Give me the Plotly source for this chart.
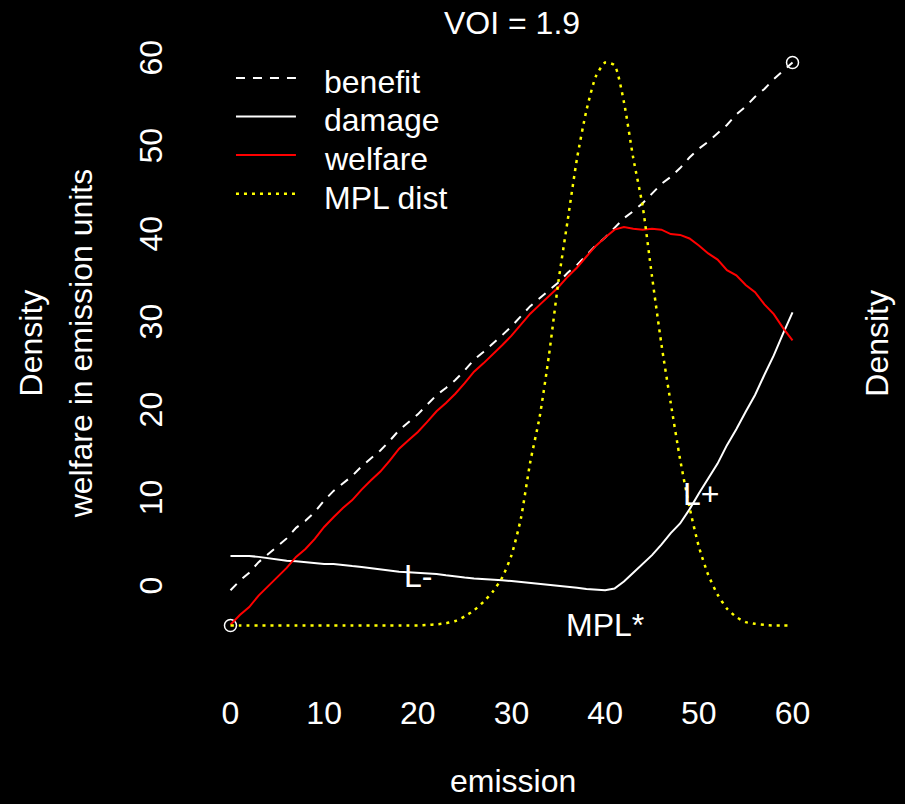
import plotly.graph_objects as go

# ---------------- data ----------------
emission = list(range(0, 61))

benefit = [0.0, 1.1, 2.0, 3.2, 4.1, 5.0, 5.9, 7.1, 7.9, 8.9,
           10.2, 11.3, 12.2, 13.0, 14.1, 15.0, 15.9, 17.0, 18.2, 19.1,
           20.0, 21.1, 22.2, 23.0, 23.9, 25.0, 26.2, 27.1, 28.0, 29.0,
           30.0, 31.2, 32.3, 33.2, 34.1, 35.0, 36.1, 37.0, 38.1, 39.2,
           40.1, 41.2, 42.3, 43.1, 44.0, 45.1, 46.2, 47.0, 48.0, 49.2,
           50.2, 51.0, 52.0, 52.9, 54.1, 55.0, 56.1, 57.0, 58.1, 59.0, 60.0]

damage = [3.9, 3.9, 3.9, 3.8, 3.65, 3.45, 3.35, 3.3, 3.2, 3.05,
          3.0, 3.0, 2.85, 2.75, 2.65, 2.5, 2.4, 2.25, 2.1, 2.05,
          2.0, 1.95, 1.85, 1.7, 1.55, 1.45, 1.35, 1.3, 1.2, 1.15,
          1.05, 0.95, 0.85, 0.75, 0.65, 0.55, 0.45, 0.3, 0.15, 0.05,
          0.0, 0.2, 1.0, 2.0, 3.0, 4.0, 5.2, 6.5, 7.6, 9.2,
          11.0, 12.7, 14.4, 16.5, 18.3, 20.3, 22.2, 24.5, 26.7, 29.2, 31.6]

welfare = [-3.9, -2.8, -1.9, -0.6, 0.45, 1.55, 2.55, 3.8, 4.7, 5.85,
           7.2, 8.3, 9.35, 10.25, 11.45, 12.5, 13.5, 14.75, 16.1, 17.05,
           18.0, 19.15, 20.35, 21.3, 22.35, 23.55, 24.85, 25.8, 26.8, 27.85,
           28.95, 30.25, 31.45, 32.45, 33.45, 34.45, 35.65, 36.7, 37.95, 39.15,
           40.1, 41.0, 41.3, 41.1, 41.0, 41.1, 41.0, 40.5, 40.4, 40.0,
           39.2, 38.3, 37.6, 36.4, 35.8, 34.7, 33.9, 32.5, 31.4, 29.8, 28.4]

mpl_density = [0.0, 0.0, 0.0, 0.0, 0.0, 0.0, 0.0, 0.0, 0.0, 0.0,
               0.0, 0.0, 0.0, 0.0, 0.0, 0.0, 0.0, 0.0, 0.0, 0.0,
               0.0, 0.00008, 0.00016, 0.00032, 0.00064, 0.00128, 0.00216, 0.00336, 0.0048, 0.0068,
               0.0100, 0.0152, 0.0232, 0.0296, 0.0384, 0.0488, 0.0576, 0.0664, 0.0732, 0.0780,
               0.0800, 0.0796, 0.0744, 0.0664, 0.0596, 0.0496, 0.0400, 0.0316, 0.0236, 0.0168,
               0.0112, 0.0072, 0.0044, 0.0024, 0.0012, 0.00048, 0.00024, 0.00008, 0.0, 0.0, 0.0]

range_x = [0, 60]
range_y = [-4, 60]

x_ticks = [0, 10, 20, 30, 40, 50, 60]
y_ticks = [0, 10, 20, 30, 40, 50, 60]

legend_labels = ["benefit", "damage", "welfare", "MPL dist"]
point_labels = ["L-", "L+", "MPL*"]
point_x = [20, 50.2, 40]
point_y = [1.6, 11.0, -4.0]

title_text = "VOI = 1.9"
x_title = "emission"
y_title_outer = "Density"
y_title_inner = "welfare in emission units"
y2_title = "Density"

# ---------------- layout geometry ----------------
W, H = 905, 804
L, R, T, B = 208, 89.5, 39.5, 156
PW, PH = W - L - R, H - T - B
FONT = "Liberation Sans, Arial, sans-serif"
FS = 32

def px(xp):
    return (xp - L) / PW

def py(yp):
    return (T + PH - yp) / PH

styles = {
    "benefit": dict(color="white", width=2, dash="9px,8px"),
    "damage": dict(color="white", width=2),
    "welfare": dict(color="#FF0000", width=2),
    "MPL dist": dict(color="#FFFF00", width=2.5, dash="3px,5px"),
}

fig = go.Figure()
fig.add_trace(go.Scatter(x=range_x, y=range_y, mode="markers",
                         marker=dict(symbol="circle-open", size=12, color="white",
                                     line=dict(width=1.5, color="white")),
                         showlegend=False, hoverinfo="skip"))
fig.add_trace(go.Scatter(x=emission, y=benefit, mode="lines", name="benefit",
                         line=styles["benefit"], showlegend=False))
fig.add_trace(go.Scatter(x=emission, y=damage, mode="lines", name="damage",
                         line=styles["damage"], showlegend=False))
fig.add_trace(go.Scatter(x=emission, y=welfare, mode="lines", name="welfare",
                         line=styles["welfare"], showlegend=False))
fig.add_trace(go.Scatter(x=emission, y=mpl_density, mode="lines", name="MPL dist",
                         line=dict(styles["MPL dist"], shape="spline", smoothing=0.6),
                         yaxis="y2", showlegend=False))

dmax = max(mpl_density)
ann = []
shapes = []

# manual R-style legend
leg_y = [77.5, 116, 154.5, 193.5]
for lab, yy in zip(legend_labels, leg_y):
    st = styles[lab]
    shapes.append(dict(type="line", xref="paper", yref="paper",
                       x0=px(236), x1=px(296), y0=py(yy), y1=py(yy),
                       line=dict(color=st["color"], width=st["width"], dash=st.get("dash", "solid"))))
    ann.append(dict(text=lab, xref="paper", yref="paper", x=px(322), y=py(yy + 4),
                    xanchor="left", yanchor="middle", showarrow=False,
                    font=dict(size=FS, color="white", family=FONT)))

for t, xx, yy in zip(point_labels, point_x, point_y):
    ann.append(dict(text=t, x=xx, y=yy, xref="x", yref="y", showarrow=False,
                    xanchor="center", yanchor="middle",
                    font=dict(size=FS, color="white", family=FONT)))

ann.append(dict(text=title_text, xref="paper", yref="paper", x=px(512.5), y=py(22),
                xanchor="center", yanchor="middle", showarrow=False,
                font=dict(size=FS, color="white", family=FONT)))
ann.append(dict(text=x_title, xref="paper", yref="paper", x=px(513), y=py(781),
                xanchor="center", yanchor="middle", showarrow=False,
                font=dict(size=FS, color="white", family=FONT)))
ann.append(dict(text=y_title_outer, xref="paper", yref="paper", x=px(31), y=py(343),
                xanchor="center", yanchor="middle", textangle=-90, showarrow=False,
                font=dict(size=FS, color="white", family=FONT)))
ann.append(dict(text=y_title_inner, xref="paper", yref="paper", x=px(81), y=py(343),
                xanchor="center", yanchor="middle", textangle=-90, showarrow=False,
                font=dict(size=FS, color="white", family=FONT)))
ann.append(dict(text=y2_title, xref="paper", yref="paper", x=px(878), y=py(343),
                xanchor="center", yanchor="middle", textangle=-90, showarrow=False,
                font=dict(size=FS, color="white", family=FONT)))

fig.update_layout(
    width=W, height=H,
    margin=dict(l=L, r=R, t=T, b=B, pad=0),
    paper_bgcolor="black", plot_bgcolor="black",
    font=dict(family=FONT, size=FS, color="white"),
    showlegend=False,
    xaxis=dict(range=[-2.4, 62.4], tickvals=x_ticks, ticktext=[str(v) for v in x_ticks],
               showgrid=False, zeroline=False, showline=False,
               ticks="outside", ticklen=37, tickcolor="black",
               tickfont=dict(size=FS, color="white", family=FONT)),
    yaxis=dict(range=[-6.56, 62.56], tickvals=y_ticks, ticktext=[str(v) for v in y_ticks],
               showgrid=False, zeroline=False, showline=False, tickangle=-90,
               ticks="outside", ticklen=32, tickcolor="black",
               tickfont=dict(size=FS, color="white", family=FONT)),
    yaxis2=dict(overlaying="y", range=[-0.04 * dmax, 1.04 * dmax], visible=False,
                showgrid=False, zeroline=False),
    annotations=ann,
    shapes=shapes,
)

fig.write_html("out.html")
